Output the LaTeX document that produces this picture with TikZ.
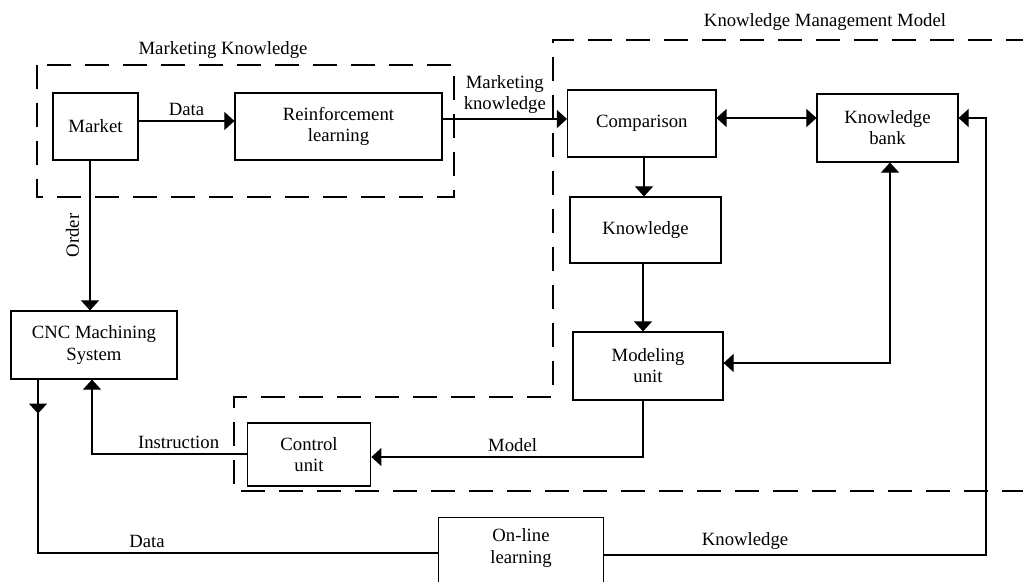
\documentclass[tikz,border=0pt]{standalone}
\usepackage{fontspec}
\setmainfont{Liberation Serif}
\usetikzlibrary{arrows.meta,decorations.markings}

\begin{document}
\begin{tikzpicture}[x=0.025cm,y=-0.025cm,
    >={Triangle[length=2.5mm,width=4.5mm]},
    every node/.style={font=\fontsize{13.3}{15}\selectfont}]
    \clip (0,0) rectangle (1023,581);% page frame
    \tikzset{box/.style = {%
        shape = rectangle,
        draw, line width = 0.8pt,
        align = center,
        inner sep = 0pt},
      link/.style = {line width = 0.8pt},
      group/.style = {line width = 0.8pt, dash pattern = on 0.6cm off 0.35cm}}
    % dashed groups
    \draw[group] (37,65) rectangle (454,197);
    \draw[group] (1030,40) -- (553,40) -- (553,397) -- (234,397) -- (234,491) -- (1030,491);
    \node (mkLabel) at (223,50) {Marketing Knowledge};
    \node (kmmLabel) at (825,22) {Knowledge Management Model};
    % blocks
    \node[box, minimum width=2.125cm, minimum height=1.675cm] (market) at (95.5,126.5) {Market};
    \node[box, minimum width=5.175cm, minimum height=1.675cm] (reinf) at (338.5,126.5) {Reinforcement\\learning};
    \node[box, minimum width=3.71cm, minimum height=1.675cm] (comp) at (641.75,123.5) {Comparison};
    \node[box, minimum width=3.525cm, minimum height=1.7cm] (kbank) at (887.5,128) {Knowledge\\bank};
    \node[box, minimum width=3.775cm, minimum height=1.65cm] (know) at (645.5,230) {Knowledge};
    \node[box, minimum width=3.75cm, minimum height=1.7cm] (model) at (648,366) {Modeling\\unit};
    \node[box, minimum width=4.15cm, minimum height=1.7cm] (cnc) at (94,345) {CNC Machining\\System};
    \node[box, minimum width=3.09cm, minimum height=1.575cm] (control) at (309,454.5) {Control\\unit};
    \node[box, draw=none, minimum width=4.1cm, minimum height=1.5cm] (online) at (521,548) {On-line\\learning};
    \draw[link] ([yshift=-1cm]online.south west) -- (online.north west) -- (online.north east) -- ([yshift=-1cm]online.south east);
    % connectors
    \draw[link,->] (market.east |- 0,121) -- node[above] {Data} (reinf.west |- 0,121);
    \draw[link,->] (reinf.east |- 0,119) -- node[above, align=center] {Marketing\\knowledge} (comp.west |- 0,119);
    \draw[link,<->] (comp.east |- 0,118) -- (kbank.west |- 0,118);
    \draw[link,->] (comp.south -| 644,0) -- (know.north -| 644,0);
    \draw[link,->] (know.south -| 643,0) -- (model.north -| 643,0);
    \draw[link,<->] (kbank.south -| 890,0) |- (model.east |- 0,363);
    \draw[link,->] (model.south -| 643,0) |- node[above, pos=0.74] {Model} (control.east |- 0,457);
    \draw[link,->] (control.west |- 0,454) -| node[above, pos=0.22] {Instruction} (cnc.south -| 92,0);
    \draw[link,->] (market.south -| 90,0) -- node[midway, rotate=90, above=4pt] {Order} (cnc.north -| 90,0);
    \draw[link, postaction={decorate}, decoration={markings,
        mark=at position 0.85cm with {\arrow{>}}}]
        (cnc.south -| 38,0) |- node[above, pos=0.636] {Data} (online.west |- 0,553);
    \draw[link,->] (online.east |- 0,555) -| node[above, pos=0.185] {Knowledge} (986,118) -- (kbank.east |- 0,118);
\end{tikzpicture}
\end{document}
